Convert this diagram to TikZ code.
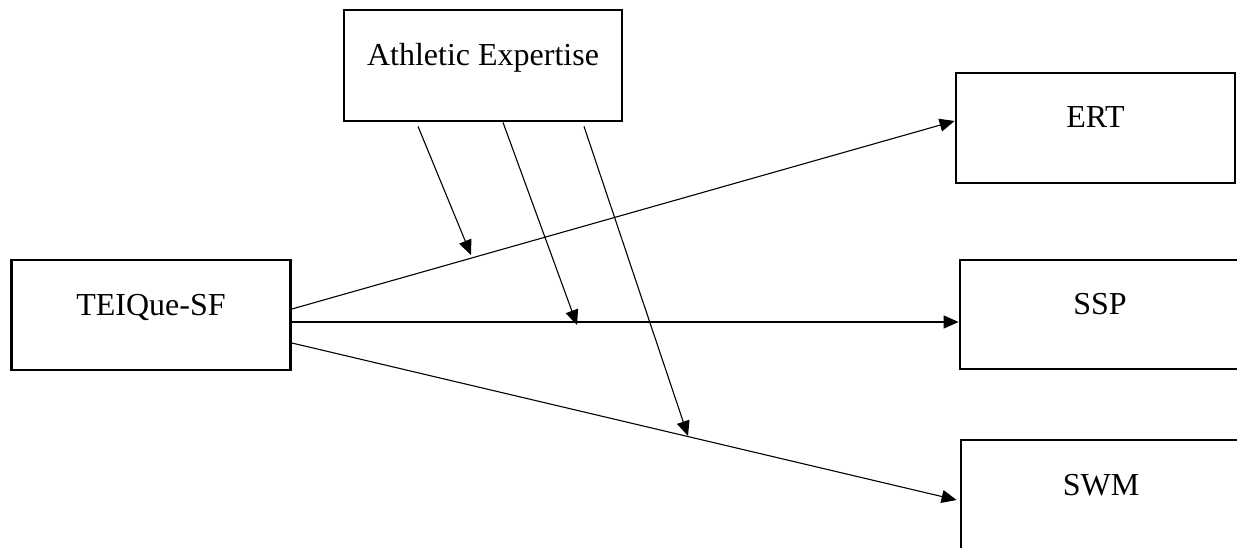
\documentclass[tikz,border=0pt]{standalone}
\usepackage{fontspec}
\setmainfont{Liberation Serif}
\usetikzlibrary{arrows.meta}
\begin{document}
\begin{tikzpicture}[x=1pt,y=-1pt,
  varbox/.style={draw,line width=2.8pt,inner xsep=0pt,inner ysep=0pt,
    text height=#1,text depth=#1,align=center,
    font=\fontsize{32}{38}\selectfont},
  arr/.style={line width=1.1pt,-{Triangle[length=15pt,width=13pt]}}]
\useasboundingbox (0,0) rectangle (1237,548);
\clip (0,0) rectangle (1237,548);
\node[varbox=55.5pt,minimum width=278pt] (ath) at (483,65.5) {Athletic Expertise};
\node[varbox=55pt,minimum width=279pt] (tei) at (151,315) {TEIQue-SF};
\node[varbox=55pt,minimum width=279pt] (ert) at (1095.5,128) {ERT};
\node[varbox=54.5pt,minimum width=280pt] (ssp) at (1100,314.5) {SSP};
\node[varbox=55pt,minimum width=280pt] (swm) at (1101,495) {SWM};
% main paths
\draw[arr] ([yshift=6pt]tei.east) -- ([yshift=7pt]ert.west);
\draw[arr] ([yshift=-7pt]tei.east) -- ([yshift=-7.5pt]ssp.west);
\draw[arr] ([yshift=-28pt]tei.east) -- ([yshift=-5pt,xshift=-3pt]swm.west);
% moderation
\coordinate (m1) at (471,255);
\coordinate (m2) at (577,325);
\coordinate (m3) at (688,436);
\draw[arr] ([xshift=-65pt,yshift=-4pt]ath.south) -- (m1);
\draw[arr] ([xshift=20pt]ath.south) -- (m2);
\draw[arr] ([xshift=101pt,yshift=-4pt]ath.south) -- (m3);
\end{tikzpicture}
\end{document}
